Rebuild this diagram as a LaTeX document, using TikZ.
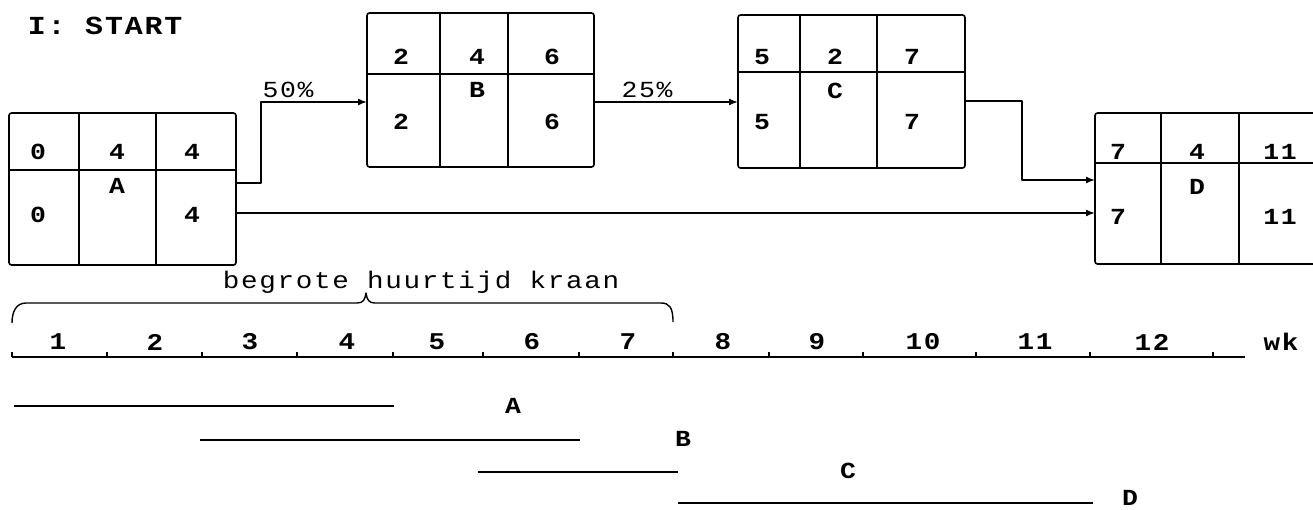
\documentclass[tikz,border=0pt]{standalone}
\usepackage{fontspec}
\setmainfont{Liberation Mono}[FakeStretch=1.15, LetterSpace=7]
\usetikzlibrary{arrows.meta,calc}

\begin{document}
\begin{tikzpicture}[x=1pt, y=-1pt,
  line width=1.6pt, line join=round,
  box/.style={draw, rounded corners=2.5pt, inner sep=0pt, outer sep=0pt, anchor=north west},
  cell/.style={inner sep=0pt, font=\fontsize{23}{23}\selectfont\bfseries},
  pct/.style={inner sep=0pt, font=\fontsize{23}{23}\selectfont},
  wknum/.style={inner sep=0pt, font=\fontsize{24}{24}\selectfont\bfseries},
  barlabel/.style={inner sep=0pt, font=\fontsize{23}{23}\selectfont\bfseries},
  arr/.style={-{Latex[length=9pt,width=7pt]}},
  bar/.style={line width=1.8pt},
  tick/.style={line width=1.2pt}]

% canvas
\useasboundingbox (0,0) rectangle (1313,509);
\clip (0,0) rectangle (1313,509);
\fill[white] (0,0) rectangle (1313,509);

\node[anchor=west, inner sep=0pt, font=\fontsize{26}{26}\selectfont\bfseries] (title) at (27,26) {I: START};

% ---- activity boxes ----
\node[box, minimum width=227pt, minimum height=152pt] (A) at (9,113) {};
\node[box, minimum width=227pt, minimum height=154pt] (B) at (367,13) {};
\node[box, minimum width=227pt, minimum height=153pt] (C) at (738,15) {};
\node[box, minimum width=230pt, minimum height=151pt] (D) at (1095,113) {};

% cell dividers
\foreach \n/\r/\ca/\cb in {A/57/70/147, B/61/73/141, C/57/62/139, D/50/66/144}{
  \draw ($(\n.north west)+(0,\r)$) -- ($(\n.north east)+(0,\r)$);
  \draw ($(\n.north west)+(\ca,0)$) -- ($(\n.south west)+(\ca,0)$);
  \draw ($(\n.north west)+(\cb,0)$) -- ($(\n.south west)+(\cb,0)$);
}

% box A
\node[cell] (a1) at (38,152) {0};
\node[cell] (a2) at (117,152) {4};
\node[cell] (a3) at (192,152) {4};
\node[cell] (a4) at (117,186) {A};
\node[cell] (a5) at (38,215) {0};
\node[cell] (a6) at (192,215) {4};
% box B
\node[cell] (b1) at (401,57) {2};
\node[cell] (b2) at (477,57) {4};
\node[cell] (b3) at (552,57) {6};
\node[cell] (b4) at (477,90) {B};
\node[cell] (b5) at (401,122) {2};
\node[cell] (b6) at (552,122) {6};
% box C
\node[cell] (c1) at (762,57) {5};
\node[cell] (c2) at (835,57) {2};
\node[cell] (c3) at (912,57) {7};
\node[cell] (c4) at (835,91) {C};
\node[cell] (c5) at (762,122) {5};
\node[cell] (c6) at (912,122) {7};
% box D
\node[cell] (d1) at (1118,152) {7};
\node[cell] (d2) at (1197,152) {4};
\node[cell] (d3) at (1280,152) {11};
\node[cell] (d4) at (1197,187) {D};
\node[cell] (d5) at (1118,217) {7};
\node[cell] (d6) at (1280,217) {11};

% ---- dependencies ----
\draw[arr] ($(A.north east)+(0,70)$) -- ++(25,0) |- ($(B.north west)+(0,89)$);
\node[pct] (p50) at (288,90) {50\%};
\draw[arr] ($(B.north east)+(0,89)$) -- ($(C.north west)+(0,87)$);
\node[pct] (p25) at (647,90) {25\%};
\draw[arr] ($(C.north east)+(0,86)$) -- ++(57,0) |- ($(D.north west)+(0,67)$);
\draw[arr] ($(A.north east)+(0,100)$) -- ($(D.north west)+(0,100)$);

% ---- rental period brace ----
\node[inner sep=0pt, font=\fontsize{24}{24}\selectfont] (huur) at (421,282) {begrote huurtijd kraan};
\draw[line width=1.4pt] (12,323) .. controls (12,312) and (16,303) .. (26,303)
  -- (357,303) .. controls (363,303) and (365,300) .. (366,293)
  .. controls (367,300) and (369,303) .. (375,303)
  -- (661,303) .. controls (669,303) and (673,307) .. (673,322);

% ---- time axis ----
\draw (12,357) -- (1245,357);
\foreach \t in {12,107,202,297,393,483,579,673,769,863,976,1090,1213}
  \draw[tick] (\t,357) -- (\t,352);
\foreach \w/\x in {1/58, 2/155, 3/250, 4/347, 5/437, 6/532, 7/628, 8/723, 9/817, 10/923, 11/1035, 12/1152}
  \node[wknum] (w\w) at (\x,342) {\w};
\node[wknum] (wk) at (1281,342) {wk};

% ---- bar chart ----
\draw[bar] (14,406) -- (394,406);
\node[barlabel] (la) at (513,406) {A};
\draw[bar] (200,440) -- (580,440);
\node[barlabel] (lb) at (683,439) {B};
\draw[bar] (478,472) -- (678,472);
\node[barlabel] (lc) at (848,471) {C};
\draw[bar] (678,503) -- (1093,503);
\node[barlabel] (ld) at (1130,498) {D};
\end{tikzpicture}
\end{document}
